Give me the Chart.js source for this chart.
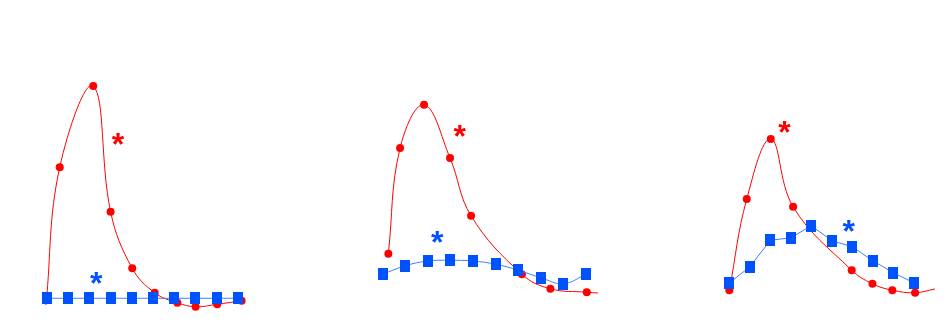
<!DOCTYPE html>
<html>
<head>
<meta charset="utf-8">
<script src="https://cdn.jsdelivr.net/npm/chart.js@4"></script>
<style>
  html, body { margin: 0; padding: 0; background: #fff; }
  #wrap { display: flex; width: 946px; height: 335px; }
  canvas { display: block; }
</style>
</head>
<body>
<div id="wrap">
  <canvas id="p1" width="315" height="335"></canvas>
  <canvas id="p2" width="315" height="335"></canvas>
  <canvas id="p3" width="316" height="335"></canvas>
</div>
<script>
// ---- data (x = sample index, y = response) ----
const blueX = [0, 1, 2, 3, 4, 5, 6, 7, 8, 9];

const red1X = [-0.05, 0.60, 2.18, 3.00, 4.02, 5.08, 6.15, 7.01, 8.03, 9.18];
const red1Y = [2.0, 57.1, 89.6, 39.3, 16.7, 6.9, 2.9, 1.3, 2.3, 3.7];
const red1Bare = [0];
const blue1Y = [4.7, 4.7, 4.7, 4.7, 4.7, 4.7, 4.7, 4.7, 4.7, 4.7];

const red2X = [0.25, 0.77, 1.83, 2.98, 3.91, 6.16, 7.42, 9.03, 9.53];
const red2Y = [22.5, 64.8, 82.1, 60.8, 37.7, 14.3, 8.5, 7.1, 6.8];
const red2Bare = [8];
const blue2Y = [14.3, 17.7, 19.6, 19.9, 19.6, 18.3, 15.9, 12.9, 10.5, 14.3];

const red3X = [0, 0.85, 2.02, 3.11, 5.97, 6.98, 7.95, 9.06, 10.03];
const red3Y = [7.9, 44.4, 68.4, 41.3, 15.9, 10.5, 7.9, 6.9, 8.4];
const red3Bare = [8];
const blue3Y = [10.8, 17.3, 27.9, 28.9, 33.7, 27.7, 25.3, 19.7, 14.9, 10.9];

// significance marks "*" : [x, y]
const redStar = [[3.36, 68.4], [3.42, 71.6], [2.70, 73.3]];
const blueStar = [[2.34, 12.7], [2.42, 29.3], [5.84, 33.7]];

const RED = '#ff0000';
const BLUE = '#0052ff';
const BLUE_LINE = '#3d7dff';

// blue marker: slightly tall rectangle
const sq = document.createElement('canvas');
sq.width = 10; sq.height = 12;
const sctx = sq.getContext('2d');
sctx.fillStyle = BLUE;
sctx.fillRect(0, 0, 10, 12);

const zip = (xs, ys) => xs.map((x, i) => ({ x: x, y: ys[i] }));

const starPlugin = {
  id: 'stars',
  afterDatasetsDraw(chart, args, opts) {
    const { ctx, scales } = chart;
    ctx.save();
    ctx.font = 'bold 32px "Liberation Sans", Arial, sans-serif';
    ctx.textAlign = 'left';
    ctx.textBaseline = 'alphabetic';
    opts.marks.forEach(m => {
      const px = scales.x.getPixelForValue(m.x);
      const py = scales.y.getPixelForValue(m.y);
      const t = ctx.measureText('*');
      const w = t.actualBoundingBoxRight + t.actualBoundingBoxLeft;
      const h = t.actualBoundingBoxAscent + t.actualBoundingBoxDescent;
      ctx.fillStyle = m.color;
      ctx.fillText('*', px - w / 2 + t.actualBoundingBoxLeft, py + t.actualBoundingBoxAscent - h / 2);
    });
    ctx.restore();
  }
};

function makePanel(id, redX, redY, bare, blueY, blueTension, xMin, xMax, idx) {
  new Chart(document.getElementById(id), {
    type: 'line',
    data: {
      datasets: [
        {
          data: zip(blueX, blueY),
          borderColor: BLUE_LINE,
          borderWidth: 1,
          pointStyle: sq,
          tension: blueTension,
          clip: false
        },
        {
          data: zip(redX, redY),
          borderColor: RED,
          backgroundColor: RED,
          borderWidth: 1,
          pointRadius: c => (bare.includes(c.dataIndex) ? 0 : 4),
          pointBorderWidth: 0,
          tension: 0.4,
          clip: false
        }
      ]
    },
    options: {
      responsive: false,
      animation: false,
      layout: { padding: { left: 20, right: 10, top: 60, bottom: 25 } },
      scales: {
        x: { type: 'linear', display: false, min: xMin, max: xMax },
        y: { display: false, min: 0, max: 100 }
      },
      plugins: {
        legend: { display: false },
        tooltip: { enabled: false },
        stars: {
          marks: [
            { x: redStar[idx][0], y: redStar[idx][1], color: RED },
            { x: blueStar[idx][0], y: blueStar[idx][1], color: BLUE }
          ]
        }
      }
    },
    plugins: [starPlugin]
  });
}

makePanel('p1', red1X, red1Y, red1Bare, blue1Y, 0.4, -1.274, 12.17, 0);
makePanel('p2', red2X, red2Y, red2Bare, blue2Y, 0.4, -2.11, 10.50, 1);
makePanel('p3', red3X, red3Y, red3Bare, blue3Y, 0, -3.87, 10.08, 2);
</script>
</body>
</html>
